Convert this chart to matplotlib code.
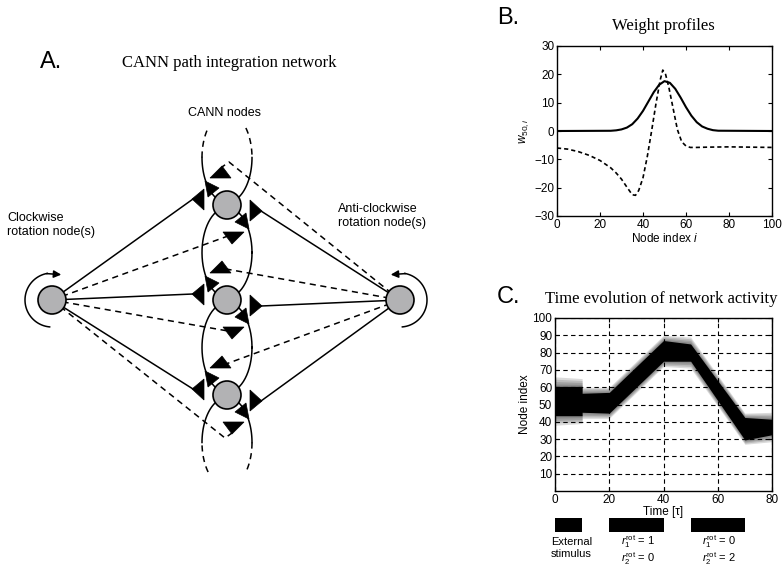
import matplotlib.pyplot as plt
from matplotlib.patches import Polygon, Circle
import numpy as np

plt.rcParams['font.family'] = ['Liberation Sans', 'DejaVu Sans']
plt.rcParams['mathtext.fontset'] = 'custom'
plt.rcParams['mathtext.rm'] = 'Liberation Sans'
plt.rcParams['mathtext.it'] = 'Liberation Sans:italic'

W, H = 782, 567
SERIF = 'Liberation Serif'

# ---- panel A: network layout (pixel coords) ----
OUTER_L = (52, 300)
OUTER_R = (400, 300)
CANN_X = 227
CANN_Y = [205, 300, 395]
NODE_R = 14
NODE_GRAY = '#b2b2b4'

# ---- panel B: weight profiles ----
b_x = [0, 25, 27.5, 30, 32.5, 35, 37.5, 40, 42.5, 45, 47.5, 50, 52.5,
       55, 57.5, 60, 62.5, 65, 67.5, 70, 72.5, 75, 100]
b_solid = [0, 0.08, 0.23, 0.56, 1.2, 2.4, 4.4, 7.1, 10.4, 13.7, 16.3, 17.6,
           17.0, 14.9, 11.8, 8.4, 5.4, 3.1, 1.6, 0.8, 0.3, 0.1, 0]
bd_x = [0, 5, 10, 15, 20, 25, 27.5, 30, 32.5, 35, 36.5, 38, 40, 42, 44, 46,
        48, 49.2, 50.5, 52, 54, 56, 58, 60, 62, 65, 70, 80, 90, 100]
b_dashed = [-6.0, -6.4, -7.3, -8.6, -10.4, -13.0, -14.8, -17.0, -19.8, -22.5,
            -22.7, -21.0, -16.5, -9.0, 0.0, 9.5, 18.0, 21.5, 20.0, 15.5, 8.0,
            0.5, -3.8, -5.3, -5.8, -5.8, -5.7, -5.6, -5.7, -5.8]

# ---- panel C: activity bump ----
act_t = [0, 10, 10, 20, 40, 50, 70, 80]
act_c = [52, 52, 51, 51, 81, 80, 36, 37]
core_w = [17, 17, 11, 12, 12, 10, 13, 9]
halo_w = [28, 26, 18, 18, 18, 18, 18, 17]

input_start = [0, 20, 50]
input_end = [10, 40, 70]


def rect(x0, y0, x1, y1):
    return [x0 / W, 1 - y1 / H, (x1 - x0) / W, (y1 - y0) / H]


fig = plt.figure(figsize=(7.82, 5.67), dpi=100)
ax = fig.add_axes([0, 0, 1, 1])
ax.set_xlim(0, W)
ax.set_ylim(H, 0)
ax.axis('off')

LW = 1.1
DASH = (0, (4, 3))


def tri(cx, cy, offs):
    pts = [(cx + dx, cy + dy) for dx, dy in offs]
    ax.add_patch(Polygon(pts, closed=True, fc='k', ec='k', lw=0.5, zorder=5))


# ring connections between CANN nodes
t = np.linspace(0, 2 * np.pi, 200)
for y0, y1 in zip(CANN_Y[:-1], CANN_Y[1:]):
    cm = (y0 + y1) / 2
    ax.plot(CANN_X + 25 * np.cos(t), cm + 45 * np.sin(t), 'k-', lw=LW, zorder=2)

t0 = np.arcsin(0.656)
top_c = CANN_Y[0] - 47.5
bot_c = CANN_Y[-1] + 47.5
ts = np.linspace(0, np.pi, 100)
ax.plot(CANN_X + 25 * np.cos(ts), top_c + 45 * np.sin(ts), 'k-', lw=LW, zorder=2)
ax.plot(CANN_X + 25 * np.cos(ts + np.pi), bot_c + 45 * np.sin(ts + np.pi), 'k-', lw=LW, zorder=2)
for a0, a1 in [(np.pi, np.pi + t0), (2 * np.pi - t0, 2 * np.pi)]:
    tt = np.linspace(a0, a1, 30)
    ax.plot(CANN_X + 25 * np.cos(tt), top_c + 45 * np.sin(tt), 'k', ls=DASH, lw=LW, zorder=2)
for a0, a1 in [(0, t0), (np.pi - t0, np.pi)]:
    tt = np.linspace(a0, a1, 30)
    ax.plot(CANN_X + 25 * np.cos(tt), bot_c + 45 * np.sin(tt), 'k', ls=DASH, lw=LW, zorder=2)

# connections from rotation nodes
for i, cy in enumerate(CANN_Y):
    ax.plot([OUTER_L[0], CANN_X - 34], [OUTER_L[1], cy - 6], 'k-', lw=LW, zorder=2)
    ax.plot([OUTER_R[0], CANN_X + 34], [OUTER_R[1], cy + 6], 'k-', lw=LW, zorder=2)
    if i < len(CANN_Y) - 1:
        ax.plot([OUTER_L[0], CANN_X + 1], [OUTER_L[1], cy + 31], 'k', ls=DASH, lw=LW, zorder=2)
    else:
        ax.plot([OUTER_L[0], CANN_X - 2, CANN_X + 5], [OUTER_L[1], cy + 43, cy + 38],
                'k', ls=DASH, lw=LW, zorder=2)
    if i > 0:
        ax.plot([OUTER_R[0], CANN_X - 1], [OUTER_R[1], cy - 31], 'k', ls=DASH, lw=LW, zorder=2)
    else:
        ax.plot([OUTER_R[0], CANN_X + 2, CANN_X - 5], [OUTER_R[1], cy - 43, cy - 38],
                'k', ls=DASH, lw=LW, zorder=2)

    tri(CANN_X, cy, [(-35, -6), (-23, -16), (-23, 5)])
    tri(CANN_X, cy, [(35, 6), (23, 16), (23, -5)])
    tri(CANN_X, cy, [(-22, -24), (-19, -8), (-8, -17)])
    tri(CANN_X, cy, [(22, 24), (19, 8), (8, 17)])
    tri(CANN_X, cy, [(-5, -39), (-17, -27), (4, -27)])
    tri(CANN_X, cy, [(5, 39), (17, 27), (-4, 27)])
    ax.add_patch(Circle((CANN_X, cy), NODE_R, fc=NODE_GRAY, ec='k', lw=1.2, zorder=6))

for (cx, cy) in [OUTER_L, OUTER_R]:
    ax.add_patch(Circle((cx, cy), NODE_R, fc=NODE_GRAY, ec='k', lw=1.2, zorder=6))

# rotation arrows
r = 27
th = np.radians(np.linspace(265, 100, 80))
ax.plot(OUTER_L[0] + r * np.cos(th), OUTER_L[1] - r * np.sin(th), 'k-', lw=LW)
a, b = np.radians(102), np.radians(70)
ax.annotate('', xy=(OUTER_L[0] + r * np.cos(b), OUTER_L[1] - r * np.sin(b)),
            xytext=(OUTER_L[0] + r * np.cos(a), OUTER_L[1] - r * np.sin(a)),
            arrowprops=dict(arrowstyle='-|>', color='k', lw=LW, mutation_scale=11,
                            shrinkA=0, shrinkB=0))
th = np.radians(np.linspace(-85, 80, 80))
ax.plot(OUTER_R[0] + r * np.cos(th), OUTER_R[1] - r * np.sin(th), 'k-', lw=LW)
a, b = np.radians(78), np.radians(110)
ax.annotate('', xy=(OUTER_R[0] + r * np.cos(b), OUTER_R[1] - r * np.sin(b)),
            xytext=(OUTER_R[0] + r * np.cos(a), OUTER_R[1] - r * np.sin(a)),
            arrowprops=dict(arrowstyle='-|>', color='k', lw=LW, mutation_scale=11,
                            shrinkA=0, shrinkB=0))

# panel A texts
ax.text(40, 62, 'A.', fontsize=17, ha='left', va='center')
ax.text(229, 63, 'CANN path integration network', family=SERIF, fontsize=12,
        ha='center', va='center')
ax.text(225, 113, 'CANN nodes', fontsize=9, ha='center', va='center')
ax.text(7, 225, 'Clockwise\nrotation node(s)', fontsize=9, ha='left', va='center',
        linespacing=1.2)
ax.text(338, 216, 'Anti-clockwise\nrotation node(s)', fontsize=9, ha='left', va='center',
        linespacing=1.2)

# panel B / C headings
ax.text(497, 18, 'B.', fontsize=17, ha='left', va='center')
ax.text(663, 26, 'Weight profiles', family=SERIF, fontsize=12, ha='center', va='center')
ax.text(497, 297, 'C.', fontsize=17, ha='left', va='center')
ax.text(661, 299, 'Time evolution of network activity', family=SERIF, fontsize=12,
        ha='center', va='center')

# ---- panel B ----
axB = fig.add_axes(rect(557, 46, 772, 216))
axB.plot(b_x, b_solid, 'k-', lw=1.5)
axB.plot(bd_x, b_dashed, 'k', ls=(0, (2.5, 1.8)), lw=1.2)
axB.set_xlim(0, 100)
axB.set_ylim(-30, 30)
axB.set_xticks(range(0, 101, 20))
axB.set_yticks(range(-30, 31, 10))
axB.tick_params(direction='in', top=True, right=True, length=3, width=0.8,
                labelsize=8.5, pad=2)
axB.set_xlabel('Node index $i$', fontsize=8.5, labelpad=1)
axB.set_ylabel(r'$w_{50,i}$', fontsize=8.5)
axB.yaxis.set_label_coords(-0.12, 0.5)
for s in axB.spines.values():
    s.set_linewidth(1.0)

# ---- panel C ----
axC = fig.add_axes(rect(555, 318, 772, 491))
tc = np.array(act_t, dtype=float)
cc = np.array(act_c, dtype=float)
cw = np.array(core_w, dtype=float)
hw = np.array(halo_w, dtype=float)
for f in [1.0, 0.75, 0.5, 0.25]:
    w = cw + f * (hw - cw)
    axC.fill_between(tc, cc - w / 2, cc + w / 2, color='k', alpha=0.14, lw=0, zorder=2)
axC.fill_between(tc, cc - cw / 2, cc + cw / 2, color='k', lw=0, zorder=2)
axC.set_xlim(0, 80)
axC.set_ylim(0, 100)
axC.set_xticks(range(0, 81, 20))
axC.set_yticks(range(10, 101, 10))
axC.grid(True, color='k', ls=(0, (4, 3)), lw=0.8, zorder=1)
axC.set_axisbelow(True)
axC.tick_params(direction='in', top=True, right=True, length=3, width=0.8,
                labelsize=8.5, pad=2)
axC.set_xlabel('Time [τ]', fontsize=8.5, labelpad=0)
axC.set_ylabel('Node index', fontsize=8.5)
axC.yaxis.set_label_coords(-0.11, 0.5)
for s in axC.spines.values():
    s.set_linewidth(1.0)

# input periods below panel C
axI = fig.add_axes(rect(555, 518, 772, 562))
axI.set_xlim(0, 80)
axI.set_ylim(44, 0)
axI.axis('off')
for s0, s1 in zip(input_start, input_end):
    axI.barh(7, s1 - s0, left=s0, height=14, color='k')
axI.text(6, 24, 'External', fontsize=8, ha='center', va='center')
axI.text(6, 36, 'stimulus', fontsize=8, ha='center', va='center')
axI.text(30.5, 24, r'$r_1^{\mathrm{rot}}$ = 1', fontsize=8, ha='center', va='center')
axI.text(30.5, 41, r'$r_2^{\mathrm{rot}}$ = 0', fontsize=8, ha='center', va='center')
axI.text(60.5, 24, r'$r_1^{\mathrm{rot}}$ = 0', fontsize=8, ha='center', va='center')
axI.text(60.5, 41, r'$r_2^{\mathrm{rot}}$ = 2', fontsize=8, ha='center', va='center')

fig.savefig('out.png', dpi=100)
